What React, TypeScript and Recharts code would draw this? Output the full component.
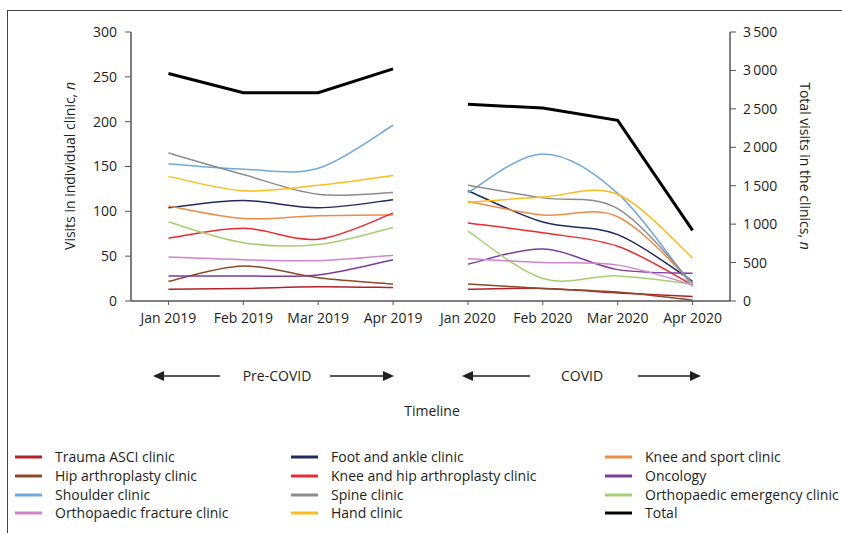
import React from 'react';
import { LineChart, Line, XAxis, YAxis } from 'recharts';

const months = ['Jan 2019', 'Feb 2019', 'Mar 2019', 'Apr 2019', 'Jan 2020', 'Feb 2020', 'Mar 2020', 'Apr 2020'];

const traumaAsci = [13, 14, 16, 15, 13, 14, 9, 5];
const footAnkle = [104, 112, 104, 113, 123, 88, 74, 22];
const kneeSport = [106, 92, 95, 96, 111, 96, 94, 20];
const hipArthroplasty = [22, 39, 26, 19, 19, 14, 10, 1];
const kneeHipArthroplasty = [70, 81, 69, 98, 87, 76, 61, 18];
const oncology = [28, 28, 29, 46, 41, 58, 35, 31];
const shoulder = [153, 147, 148, 196, 121, 164, 120, 16];
const spine = [165, 141, 119, 121, 129, 115, 103, 20];
const orthoEmergency = [88, 65, 63, 82, 78, 25, 28, 19];
const orthoFracture = [49, 46, 45, 51, 47, 43, 40, 18];
const hand = [139, 123, 129, 140, 110, 116, 119, 48];
const total = [2960, 2710, 2710, 3020, 2560, 2510, 2350, 920];

const leftTicks = [0, 50, 100, 150, 200, 250, 300];
const rightTicks = [0, 500, 1000, 1500, 2000, 2500, 3000, 3500];

const series = [
  { key: 'traumaAsci', name: 'Trauma ASCI clinic', values: traumaAsci, color: '#B5212B' },
  { key: 'footAnkle', name: 'Foot and ankle clinic', values: footAnkle, color: '#1F2A5E' },
  { key: 'kneeSport', name: 'Knee and sport clinic', values: kneeSport, color: '#F08A45' },
  { key: 'hipArthroplasty', name: 'Hip arthroplasty clinic', values: hipArthroplasty, color: '#8B4A26' },
  { key: 'kneeHipArthroplasty', name: 'Knee and hip arthroplasty clinic', values: kneeHipArthroplasty, color: '#EE2A2E' },
  { key: 'oncology', name: 'Oncology', values: oncology, color: '#7A3C9E' },
  { key: 'shoulder', name: 'Shoulder clinic', values: shoulder, color: '#6FA8DC' },
  { key: 'spine', name: 'Spine clinic', values: spine, color: '#8C8C8C' },
  { key: 'orthoEmergency', name: 'Orthopaedic emergency clinic', values: orthoEmergency, color: '#A6CF72' },
  { key: 'orthoFracture', name: 'Orthopaedic fracture clinic', values: orthoFracture, color: '#CF85C8' },
  { key: 'hand', name: 'Hand clinic', values: hand, color: '#FDBB1C' },
  { key: 'total', name: 'Total', values: total, color: '#000000' },
];

const data = months.map((m, i) => {
  const row: any = { month: m };
  series.forEach((s) => {
    row[s.key + '_a'] = i < 4 ? s.values[i] : null;
    row[s.key + '_b'] = i >= 4 ? s.values[i] : null;
  });
  return row;
});

// Excel-like smoothed line (Catmull-Rom style Bezier)
function excelCurve(context: any) {
  let pts: number[][] = [];
  return {
    areaStart() {},
    areaEnd() {},
    lineStart() {
      pts = [];
    },
    lineEnd() {
      const n = pts.length;
      if (n === 0) return;
      context.moveTo(pts[0][0], pts[0][1]);
      for (let i = 0; i < n - 1; i++) {
        const p0 = pts[Math.max(i - 1, 0)];
        const p1 = pts[i];
        const p2 = pts[i + 1];
        const p3 = pts[Math.min(i + 2, n - 1)];
        context.bezierCurveTo(
          p1[0] + (p2[0] - p0[0]) / 6,
          p1[1] + (p2[1] - p0[1]) / 6,
          p2[0] - (p3[0] - p1[0]) / 6,
          p2[1] - (p3[1] - p1[1]) / 6,
          p2[0],
          p2[1]
        );
      }
    },
    point(x: number, y: number) {
      pts.push([+x, +y]);
    },
  };
}

const FONT = '"Open Sans", "Noto Sans", sans-serif';
const TEXT = '#231F20';
const AXIS = '#555555';

const fmtRight = (v: number) =>
  v >= 1000 ? `${Math.floor(v / 1000)}\u2009${String(v % 1000).padStart(3, '0')}` : String(v);

const legendCols = [15, 291, 605];
const legendRows = [457, 476, 495, 513];

function Arrow({ x1, x2, y }: { x1: number; x2: number; y: number }) {
  const dir = x2 > x1 ? 1 : -1;
  const head = 11;
  return (
    <g>
      <line x1={x1} y1={y} x2={x2 - dir * head} y2={y} stroke="#231F20" strokeWidth={1.6} />
      <polygon
        points={`${x2},${y} ${x2 - dir * head},${y - 5} ${x2 - dir * head},${y + 5}`}
        fill="#231F20"
      />
    </g>
  );
}

export default function App() {
  return (
    <div style={{ position: 'absolute', left: 0, top: 0, width: 842, height: 533, background: '#fff', fontFamily: FONT }}>
      <LineChart
        width={842}
        height={533}
        data={data}
        margin={{ top: 32, right: 52, left: 71, bottom: 202 }}
      >
        <XAxis
          dataKey="month"
          scale="band"
          axisLine={{ stroke: AXIS, strokeWidth: 1.5 }}
          tickLine={{ stroke: AXIS }}
          tickSize={4}
          tickMargin={8}
          tick={{ fill: TEXT, fontSize: 14, fontFamily: FONT }}
          interval={0}
        />
        <YAxis
          yAxisId="left"
          domain={[0, 300]}
          ticks={leftTicks}
          width={60}
          axisLine={{ stroke: AXIS, strokeWidth: 1.5 }}
          tickLine={{ stroke: AXIS }}
          tickSize={6}
          tickMargin={8}
          tick={{ fill: TEXT, fontSize: 14, fontFamily: FONT }}
          interval={0}
        />
        <YAxis
          yAxisId="right"
          orientation="right"
          domain={[0, 3500]}
          ticks={rightTicks}
          width={60}
          axisLine={{ stroke: AXIS, strokeWidth: 1.5 }}
          tickLine={{ stroke: AXIS }}
          tickSize={6}
          tickMargin={7}
          tickFormatter={fmtRight}
          tick={{ fill: TEXT, fontSize: 14, fontFamily: FONT }}
          interval={0}
        />
        {series.map((s) =>
          ['_a', '_b'].map((suf) => (
            <Line
              key={s.key + suf}
              yAxisId={s.key === 'total' ? 'right' : 'left'}
              dataKey={s.key + suf}
              type={s.key === 'total' ? 'linear' : (excelCurve as any)}
              stroke={s.color}
              strokeWidth={s.key === 'total' ? 3 : 1.5}
              dot={false}
              activeDot={false}
              connectNulls={false}
              isAnimationActive={false}
            />
          ))
        )}
      </LineChart>
      <svg
        width={842}
        height={533}
        style={{ position: 'absolute', left: 0, top: 0, pointerEvents: 'none' }}
        fontFamily={FONT}
      >
        <rect x={7.5} y={10.5} width={840} height={530} fill="none" stroke="#444" strokeWidth={1} />
        <text
          transform="translate(70,166) rotate(-90)"
          textAnchor="middle"
          dy="0.35em"
          fontSize={14}
          fill={TEXT}
        >
          Visits in individual clinic, <tspan fontStyle="italic">n</tspan>
        </text>
        <text
          transform="translate(805,166) rotate(90)"
          textAnchor="middle"
          dy="0.35em"
          fontSize={14}
          fill={TEXT}
        >
          Total visits in the clinics, <tspan fontStyle="italic">n</tspan>
        </text>
        <Arrow x1={220} x2={153} y={376} />
        <text x={277} y={376} dy="0.35em" textAnchor="middle" fontSize={14} fill={TEXT}>
          Pre-COVID
        </text>
        <Arrow x1={330} x2={394} y={376} />
        <Arrow x1={530} x2={462} y={376} />
        <text x={582} y={376} dy="0.35em" textAnchor="middle" fontSize={14} fill={TEXT}>
          COVID
        </text>
        <Arrow x1={638} x2={701} y={376} />
        <text x={432} y={411} dy="0.35em" textAnchor="middle" fontSize={14} fill={TEXT}>
          Timeline
        </text>
        {series.map((s, i) => {
          const cx = legendCols[i % 3];
          const cy = legendRows[Math.floor(i / 3)];
          return (
            <g key={s.key}>
              <line x1={cx} y1={cy} x2={cx + 27} y2={cy} stroke={s.color} strokeWidth={3} />
              <text x={cx + 40} y={cy} dy="0.35em" fontSize={14} fill={TEXT}>
                {s.name}
              </text>
            </g>
          );
        })}
      </svg>
    </div>
  );
}
